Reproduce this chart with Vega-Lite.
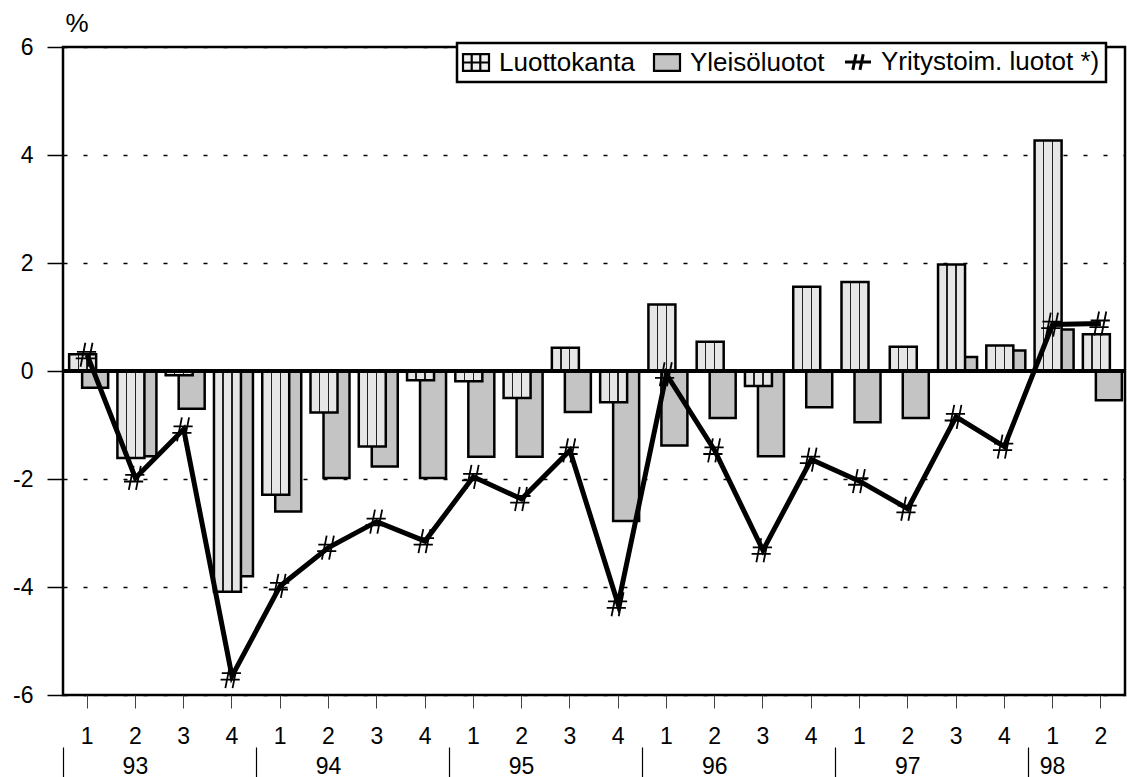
{
  "$schema": "https://vega.github.io/schema/vega-lite/v6.json",
  "width": 1062,
  "height": 648,
  "autosize": "none",
  "padding": {"left": 63, "top": 47, "right": 2, "bottom": 82},
  "background": "white",
  "config": {
    "font": "Liberation Sans",
    "view": {"stroke": "black", "strokeWidth": 2.5},
    "axis": {"labelColor": "black", "labelFont": "Liberation Sans", "titleFont": "Liberation Sans", "titleColor": "black"}
  },
  "data": {
    "values": [
      {"q": "93-1", "L": 0.31, "Y": -0.31, "R": 0.3},
      {"q": "93-2", "L": -1.61, "Y": -1.58, "R": -1.98},
      {"q": "93-3", "L": -0.08, "Y": -0.70, "R": -1.08},
      {"q": "93-4", "L": -4.09, "Y": -3.80, "R": -5.65},
      {"q": "94-1", "L": -2.29, "Y": -2.60, "R": -3.98},
      {"q": "94-2", "L": -0.77, "Y": -1.98, "R": -3.27},
      {"q": "94-3", "L": -1.40, "Y": -1.77, "R": -2.79},
      {"q": "94-4", "L": -0.17, "Y": -1.98, "R": -3.15},
      {"q": "95-1", "L": -0.19, "Y": -1.59, "R": -1.96},
      {"q": "95-2", "L": -0.50, "Y": -1.59, "R": -2.37},
      {"q": "95-3", "L": 0.43, "Y": -0.76, "R": -1.47},
      {"q": "95-4", "L": -0.58, "Y": -2.78, "R": -4.32},
      {"q": "96-1", "L": 1.23, "Y": -1.38, "R": -0.06},
      {"q": "96-2", "L": 0.54, "Y": -0.87, "R": -1.47},
      {"q": "96-3", "L": -0.28, "Y": -1.58, "R": -3.32},
      {"q": "96-4", "L": 1.56, "Y": -0.67, "R": -1.64},
      {"q": "97-1", "L": 1.65, "Y": -0.95, "R": -2.04},
      {"q": "97-2", "L": 0.45, "Y": -0.87, "R": -2.55},
      {"q": "97-3", "L": 1.97, "Y": 0.26, "R": -0.85},
      {"q": "97-4", "L": 0.47, "Y": 0.38, "R": -1.40},
      {"q": "98-1", "L": 4.27, "Y": 0.77, "R": 0.86},
      {"q": "98-2", "L": 0.68, "Y": -0.54, "R": 0.88}
    ]
  },
  "resolve": {"axis": {"x": "independent"}},
  "layer": [
    {
      "mark": {"type": "bar", "width": 26, "xOffset": 8, "stroke": "black", "strokeWidth": 2.5},
      "encoding": {
        "x": {"field": "q", "type": "ordinal", "sort": null,
              "scale": {"paddingInner": 0, "paddingOuter": 0},
              "axis": {"orient": "bottom", "values": ["93-1", "94-1", "95-1", "96-1", "97-1", "98-1"], "bandPosition": 0, "offset": 52, "tickSize": 32, "tickColor": "black", "tickWidth": 1.2, "labels": false, "domain": false, "title": null, "grid": false}},
        "y": {"field": "Y", "type": "quantitative", "scale": {"domain": [-6, 6], "nice": false},
              "axis": {"values": [-6, -4, -2, 0, 2, 4, 6], "grid": true, "gridColor": "black", "gridDash": [4, 16], "gridWidth": 1.5, "tickSize": 16, "tickColor": "black", "tickWidth": 1.5, "labelFontSize": 23, "labelPadding": 14, "labelExpr": "'' + datum.value", "domain": false, "title": "%", "titleAngle": 0, "titleAlign": "left", "titleBaseline": "alphabetic", "titleX": 2, "titleY": -16, "titleFontSize": 26, "titleFontWeight": "normal"}},
        "color": {"datum": "Yleisöluotot",
                  "scale": {"domain": ["Luottokanta", "Yleisöluotot", "Yritystoim. luotot *)"],
                            "range": ["#f0f0f0", "#c4c4c4", "black"]},
                  "legend": {"orient": "none", "legendX": 394, "legendY": -4, "direction": "horizontal", "title": null, "labelFontSize": 26, "labelLimit": 500, "labelColor": "black", "labelOffset": 10, "columnPadding": 14, "padding": 6, "strokeColor": "black", "fillColor": "white", "symbolSize": 676, "symbolStrokeColor": "black", "symbolStrokeWidth": 2.5, "symbolOpacity": 1,
                             "encode": {"legend": {"update": {"strokeWidth": {"value": 2.5}}},
                                        "symbols": {"update": {"shape": {"signal": "datum.value === 'Yritystoim. luotot *)' ? 'M-1,0H1M-0.15,-0.6L-0.4,0.6M0.4,-0.6L0.15,0.6' : (datum.value === 'Luottokanta' ? 'M-1,-0.65H1V0.65H-1ZM-0.33,-0.65V0.65M0.33,-0.65V0.65M-1,0H1' : 'M-1,-0.65H1V0.65H-1Z')"}, "strokeWidth": {"signal": "datum.value === 'Yritystoim. luotot *)' ? 3 : 2.2"}, "stroke": {"value": "black"}, "opacity": {"value": 1}}}}}}
      }
    },
    {
      "mark": {"type": "bar", "width": 27, "xOffset": -4.5, "stroke": "black", "strokeWidth": 2.5,
               "fill": {"gradient": "linear", "x1": 0, "y1": 0, "x2": 1, "y2": 0, "stops": [{"offset": 0, "color": "#e6e6e6"}, {"offset": 0.31, "color": "#e6e6e6"}, {"offset": 0.31, "color": "#222222"}, {"offset": 0.36, "color": "#222222"}, {"offset": 0.36, "color": "#e6e6e6"}, {"offset": 0.64, "color": "#e6e6e6"}, {"offset": 0.64, "color": "#222222"}, {"offset": 0.69, "color": "#222222"}, {"offset": 0.69, "color": "#e6e6e6"}, {"offset": 1, "color": "#e6e6e6"}]}},
      "encoding": {
        "x": {"field": "q", "type": "ordinal", "sort": null,
              "scale": {"paddingInner": 0, "paddingOuter": 0},
              "axis": {"orient": "bottom", "tickSize": 13, "tickColor": "#444444", "tickWidth": 1, "labelFontSize": 23, "labelPadding": 17, "labelAngle": 0, "labelExpr": "slice(datum.value, -1)", "domain": false, "title": null, "grid": false}},
        "y": {"field": "L", "type": "quantitative", "scale": {"domain": [-6, 6], "nice": false},
              "axis": {"values": [-6, -4, -2, 0, 2, 4, 6], "grid": true, "gridColor": "black", "gridDash": [4, 16], "gridWidth": 1.5, "tickSize": 16, "tickColor": "black", "tickWidth": 1.5, "labelFontSize": 23, "labelPadding": 14, "labelExpr": "'' + datum.value", "domain": false, "title": "%", "titleAngle": 0, "titleAlign": "left", "titleBaseline": "alphabetic", "titleX": 2, "titleY": -16, "titleFontSize": 26, "titleFontWeight": "normal"}}
      }
    },
    {
      "mark": {"type": "rule", "color": "black", "strokeWidth": 2.5},
      "encoding": {"y": {"datum": 0}}
    },
    {
      "mark": {"type": "line", "stroke": "black", "strokeWidth": 5, "strokeJoin": "miter"},
      "encoding": {
        "x": {"field": "q", "type": "ordinal", "sort": null,
              "scale": {"paddingInner": 0, "paddingOuter": 0},
              "axis": {"orient": "bottom", "values": ["93-2", "94-2", "95-2", "96-2", "97-2", "98-1"], "bandPosition": 1, "offset": 52, "ticks": false, "tickSize": 0, "labelPadding": 8, "labelFontSize": 23, "labelAngle": 0, "labelExpr": "slice(datum.value, 0, 2)", "domain": false, "title": null, "grid": false}},
        "y": {"field": "R", "type": "quantitative"}
      }
    },
    {
      "mark": {"type": "point", "shape": "M-0.15,-1L-0.55,1M0.45,-1L0.05,1M-0.85,-0.25H0.75M-0.95,0.3H0.65", "filled": false, "stroke": "black", "strokeWidth": 1.8, "size": 576, "opacity": 1},
      "encoding": {
        "x": {"field": "q", "type": "ordinal", "sort": null, "axis": null},
        "y": {"field": "R", "type": "quantitative"}
      }
    }
  ]
}
